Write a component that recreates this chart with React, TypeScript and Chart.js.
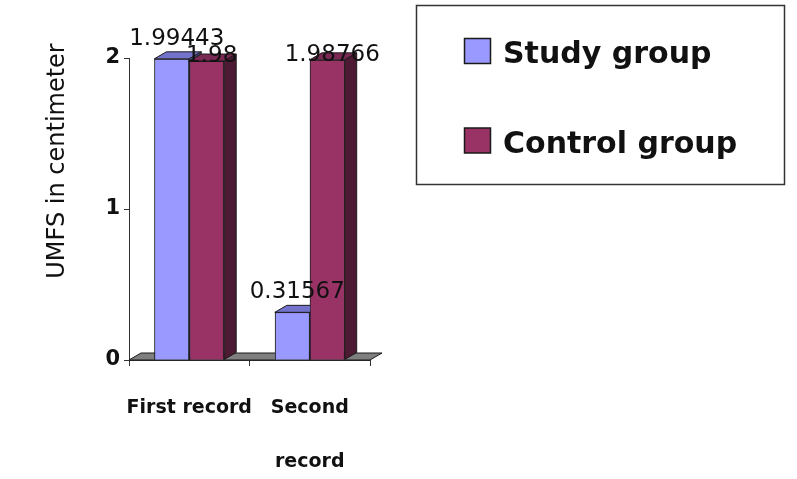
import React, { useEffect, useRef } from 'react';
import { Chart, registerables } from 'chart.js';

Chart.register(...registerables);

// ---- data ----
const categories: (string | string[])[] = ['First record', ['Second', 'record']];
const seriesNames = ['Study group', 'Control group'];
const studyValues = [1.99443, 0.31567];
const controlValues = [1.98, 1.98766];
const yMin = 0;
const yMax = 2;
const yStep = 1;
const yTitle = 'UMFS in centimeter';

// ---- styles ----
const frontColors = ['#9999FF', '#993366'];
const topColors = ['#7373CC', '#7A2952'];
const sideColors = ['#4D4D80', '#4D1A33'];
const labelOffsets = [-14, 1]; // baseline relative to bar top, per series
const DX = 12;
const DY = -7;
const EDGE = '#1a1a1a';

const threeD = {
  id: 'threeD',
  beforeDatasetsDraw(chart: any) {
    const { ctx, chartArea } = chart;
    const { left, right, bottom } = chartArea;
    ctx.save();
    ctx.beginPath();
    ctx.moveTo(left, bottom);
    ctx.lineTo(right, bottom);
    ctx.lineTo(right + DX, bottom + DY);
    ctx.lineTo(left + DX, bottom + DY);
    ctx.closePath();
    ctx.fillStyle = '#7f7f7f';
    ctx.fill();
    ctx.strokeStyle = EDGE;
    ctx.lineWidth = 1;
    ctx.stroke();
    ctx.restore();
  },
  afterDatasetsDraw(chart: any) {
    const { ctx, chartArea } = chart;
    // redraw bars in series order so that later series sit in front
    chart.data.datasets.forEach((ds: any, di: number) => {
      const meta = chart.getDatasetMeta(di);
      meta.data.forEach((bar: any) => {
        bar.draw(ctx, chartArea);
        const { x, y, width, base } = bar.getProps(['x', 'y', 'width', 'base'], true);
        const l = x - width / 2;
        const r = x + width / 2;
        ctx.save();
        ctx.strokeStyle = EDGE;
        ctx.lineWidth = 1;
        // top face
        ctx.beginPath();
        ctx.moveTo(l, y);
        ctx.lineTo(r, y);
        ctx.lineTo(r + DX, y + DY);
        ctx.lineTo(l + DX, y + DY);
        ctx.closePath();
        ctx.fillStyle = topColors[di];
        ctx.fill();
        ctx.stroke();
        // side face
        ctx.beginPath();
        ctx.moveTo(r, y);
        ctx.lineTo(r + DX, y + DY);
        ctx.lineTo(r + DX, base + DY);
        ctx.lineTo(r, base);
        ctx.closePath();
        ctx.fillStyle = sideColors[di];
        ctx.fill();
        ctx.stroke();
        ctx.restore();
      });
    });

    // value labels
    ctx.save();
    ctx.font = '23px "DejaVu Sans"';
    ctx.fillStyle = '#111';
    ctx.textAlign = 'center';
    ctx.textBaseline = 'alphabetic';
    chart.data.datasets.forEach((ds: any, di: number) => {
      const meta = chart.getDatasetMeta(di);
      meta.data.forEach((bar: any, j: number) => {
        const { x, y } = bar.getProps(['x', 'y'], true);
        ctx.fillText(String(ds.data[j]), x + 5, y + labelOffsets[di]);
      });
    });
    ctx.restore();
  },
  afterDraw(chart: any) {
    const { ctx } = chart;
    // y axis title
    ctx.save();
    ctx.translate(58, 161);
    ctx.rotate(-Math.PI / 2);
    ctx.font = '24px "DejaVu Sans"';
    ctx.fillStyle = '#111';
    ctx.textAlign = 'center';
    ctx.textBaseline = 'middle';
    ctx.fillText(yTitle, 0, 0);
    ctx.restore();

    // legend box
    ctx.save();
    ctx.strokeStyle = '#333';
    ctx.lineWidth = 1.5;
    ctx.strokeRect(416.5, 5.5, 368, 179);
    ctx.font = 'bold 30px "DejaVu Sans"';
    ctx.textAlign = 'left';
    ctx.textBaseline = 'alphabetic';
    chart.data.datasets.forEach((ds: any, i: number) => {
      const top = 38 + i * 89.5;
      ctx.fillStyle = ds.backgroundColor;
      ctx.fillRect(464.5, top + 0.5, 26, 25);
      ctx.strokeStyle = EDGE;
      ctx.lineWidth = 1.5;
      ctx.strokeRect(464.5, top + 0.5, 26, 25);
      ctx.fillStyle = '#111';
      ctx.fillText(ds.label, 503, top + 25);
    });
    ctx.restore();
  },
};

export default function App() {
  const ref = useRef<HTMLCanvasElement | null>(null);
  useEffect(() => {
    document.body.style.margin = '0';
    const canvas = ref.current;
    if (!canvas) return;
    const chart = new Chart(canvas, {
      type: 'bar',
      data: {
        labels: categories,
        datasets: [
          {
            label: seriesNames[0],
            data: studyValues,
            backgroundColor: frontColors[0],
            borderColor: EDGE,
            borderWidth: 1,
            categoryPercentage: 0.58,
            barPercentage: 1,
          },
          {
            label: seriesNames[1],
            data: controlValues,
            backgroundColor: frontColors[1],
            borderColor: EDGE,
            borderWidth: 1,
            categoryPercentage: 0.58,
            barPercentage: 1,
          },
        ],
      },
      options: {
        responsive: false,
        animation: false,
        layout: { padding: { top: 58, right: 427, left: 0, bottom: 0 } },
        plugins: {
          legend: { display: false },
          tooltip: { enabled: false },
        },
        scales: {
          x: {
            afterFit: (scale: any) => {
              scale.height = 119;
            },
            grid: {
              display: true,
              drawOnChartArea: false,
              tickLength: 6,
              offset: true,
              color: '#333',
            },
            border: { display: true, color: '#333' },
            ticks: {
              color: '#111',
              padding: 15,
              maxRotation: 0,
              autoSkip: false,
              font: { family: 'DejaVu Sans', size: 19, weight: 'bold', lineHeight: 2.84 },
            },
          },
          y: {
            min: yMin,
            max: yMax,
            afterFit: (scale: any) => {
              scale.width = 129;
            },
            grid: {
              display: true,
              drawOnChartArea: false,
              tickLength: 5,
              color: '#333',
            },
            border: { display: true, color: '#333' },
            ticks: {
              stepSize: yStep,
              color: '#111',
              padding: 4,
              font: { family: 'DejaVu Sans', size: 21, weight: 'bold' },
            },
          },
        },
      },
      plugins: [threeD],
    } as any);
    return () => chart.destroy();
  }, []);
  return (
    <div style={{ width: 797, height: 479 }}>
      <canvas ref={ref} width={797} height={479} style={{ display: 'block' }} />
    </div>
  );
}
